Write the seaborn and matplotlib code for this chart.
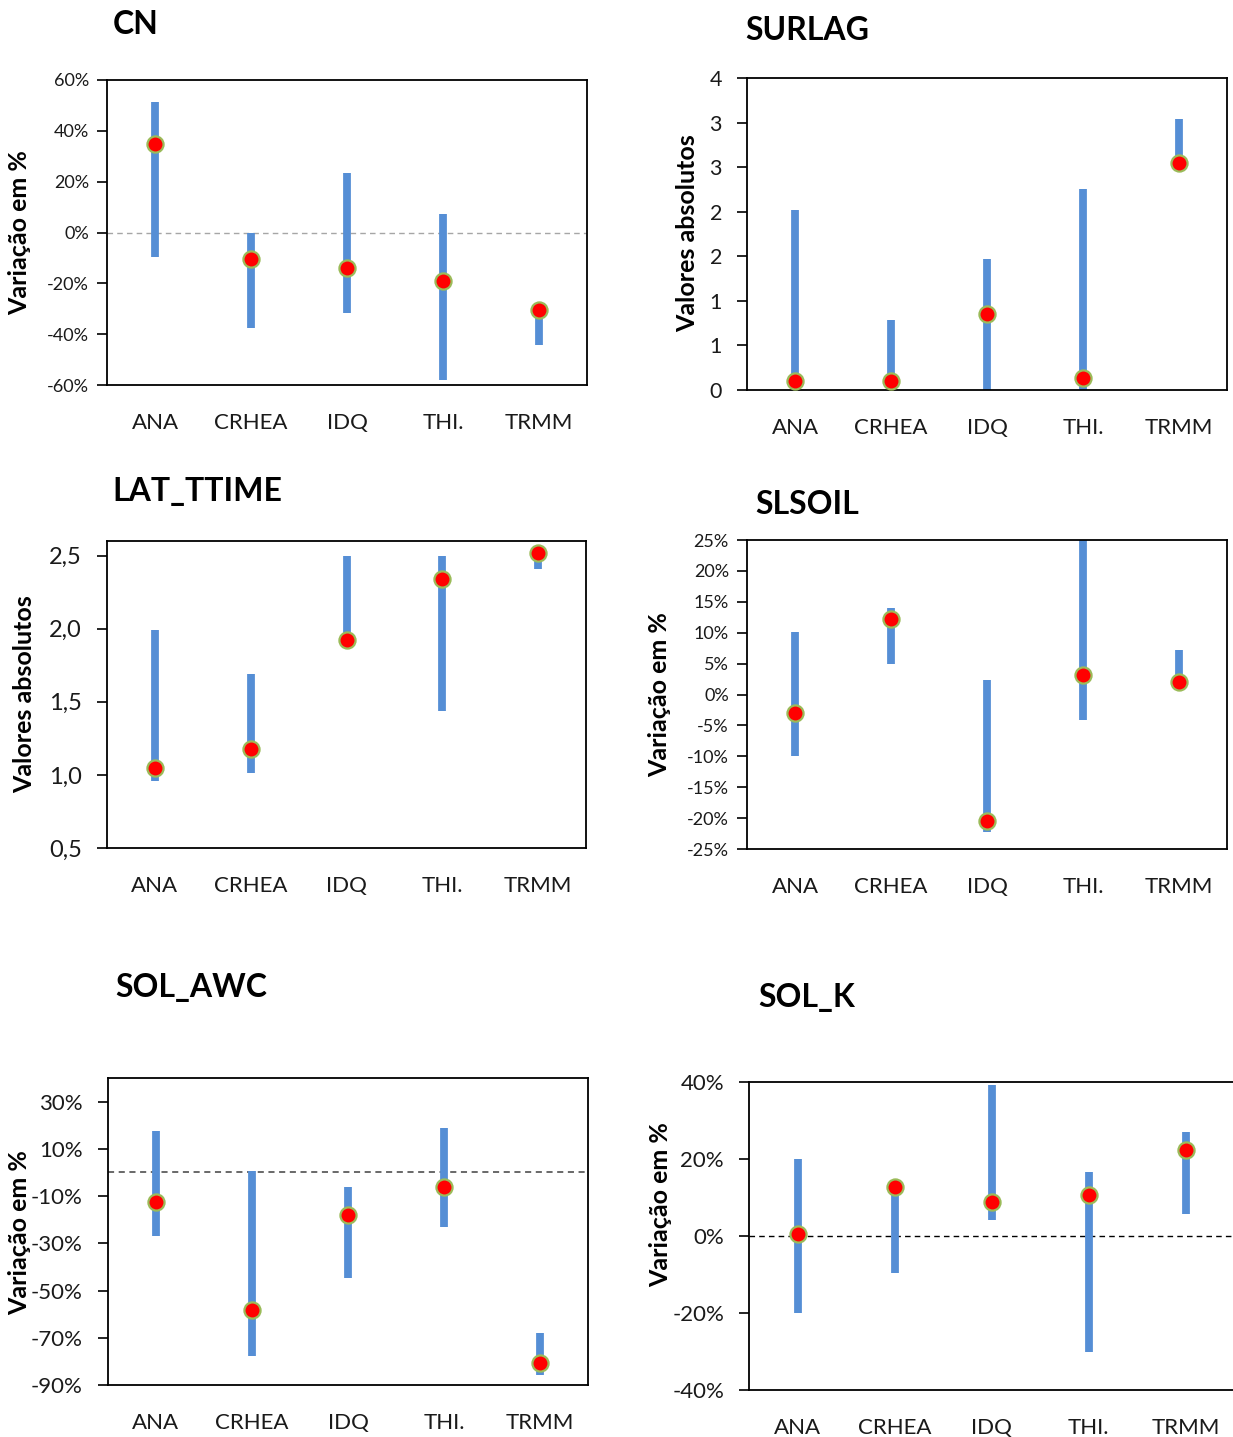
import numpy as np
import pandas as pd
import matplotlib
matplotlib.use("Agg")
import matplotlib.pyplot as plt
from matplotlib.ticker import FixedLocator, FuncFormatter
import seaborn as sns

# ---------------- data ----------------
categories = ["ANA", "CRHEA", "IDQ", "THI.", "TRMM"]

cn_low = [-9.7, -37.6, -31.7, -58.0, -44.3]
cn_high = [51.3, 0.0, 23.4, 7.2, -30.6]
cn_val = [34.8, -10.5, -14.0, -19.0, -30.6]

surlag_low = [0.0, 0.0, 0.0, 0.0, 2.55]
surlag_high = [2.02, 0.79, 1.47, 2.26, 3.04]
surlag_val = [0.10, 0.10, 0.85, 0.14, 2.55]
surlag_ticklabels = ["0", "1", "1", "2", "2", "3", "3", "4"]

lat_low = [0.96, 1.015, 1.92, 1.44, 2.41]
lat_high = [1.99, 1.69, 2.50, 2.50, 2.52]
lat_val = [1.05, 1.18, 1.92, 2.34, 2.52]

slsoil_low = [-10.0, 4.9, -22.2, -4.1, 2.0]
slsoil_high = [10.1, 14.0, 2.3, 25.0, 7.2]
slsoil_val = [-3.0, 12.2, -20.4, 3.1, 2.0]

awc_low = [-26.8, -77.6, -44.8, -22.9, -85.6]
awc_high = [17.7, 0.5, -6.1, 19.0, -67.9]
awc_val = [-12.5, -58.3, -18.2, -6.0, -80.5]

solk_low = [-20.0, -9.7, 4.1, -30.2, 5.8]
solk_high = [20.0, 12.8, 39.2, 16.5, 26.9]
solk_val = [0.6, 12.8, 8.9, 10.7, 22.4]

titles = ["CN", "SURLAG", "LAT_TTIME", "SLSOIL", "SOL_AWC", "SOL_K"]
ylabels = ["Variação em %", "Valores absolutos", "Valores absolutos",
           "Variação em %", "Variação em %", "Variação em %"]

# ---------------- style ----------------
sns.set_theme(style="white")
plt.rcParams["font.family"] = ["Lato", "DejaVu Sans"]

W, H = 1233, 1437
DPI = 100
fig = plt.figure(figsize=(W / DPI, H / DPI), dpi=DPI)

BAR = "#558ED5"
DOT = "#FF0000"
EDGE = "#9BBB59"


def add_ax(l, r, t, b):
    return fig.add_axes([l / W, 1 - b / H, (r - l) / W, (b - t) / H])


def panel(ax, low, high, val, ylim, ticks, fmt, tick_fs, tick_pad, zero_line=None):
    pos = np.arange(len(categories))
    df = pd.DataFrame({"pos": pos, "low": low, "high": high, "val": val,
                       "cat": categories})
    lc = ax.vlines(df["pos"], df["low"], df["high"], colors=BAR, linewidth=5.6,
                   zorder=2)
    lc.set_capstyle("butt")
    if zero_line is not None:
        ax.axhline(0, color=zero_line[0], linestyle=(0, (4, 3)),
                   linewidth=zero_line[1], zorder=1)
    sns.scatterplot(data=df, x="pos", y="val", ax=ax, s=135, color=DOT,
                    edgecolor=EDGE, linewidth=1.6, zorder=3, legend=False,
                    clip_on=False)
    ax.set_xlim(-0.5, len(categories) - 0.5)
    ax.set_ylim(*ylim)
    ax.yaxis.set_major_locator(FixedLocator(ticks))
    ax.yaxis.set_major_formatter(fmt)
    ax.set_xticks(pos)
    ax.set_xticklabels(categories)
    ax.set_xlabel("")
    ax.set_ylabel("")
    ax.tick_params(axis="x", length=0, pad=20, labelsize=16, labelcolor="#1a1a1a")
    ax.tick_params(axis="y", left=True, length=7, width=1.2, direction="out",
                   pad=tick_pad, labelsize=tick_fs, labelcolor="#1a1a1a",
                   color="black")
    for sp in ax.spines.values():
        sp.set_color("black")
        sp.set_linewidth(1.3)
        sp.set_visible(True)
    ax.set_facecolor("white")


pct = FuncFormatter(lambda v, p: f"{v:.0f}%")
comma = FuncFormatter(lambda v, p: f"{v:.1f}".replace(".", ","))
surlag_fmt = FuncFormatter(
    lambda v, p: surlag_ticklabels[int(round(v / 0.5))]
    if 0 <= round(v / 0.5) < len(surlag_ticklabels) else "")

# Panel 1: CN
ax1 = add_ax(107, 587, 80, 385)
panel(ax1, cn_low, cn_high, cn_val, (-60, 60), np.arange(-60, 61, 20), pct, 13, 6,
      zero_line=("#A6A6A6", 1.0))

# Panel 2: SURLAG
ax2 = add_ax(747, 1227, 78, 390)
panel(ax2, surlag_low, surlag_high, surlag_val, (0, 3.5), np.arange(0, 3.51, 0.5),
      surlag_fmt, 15.5, 11)

# Panel 3: LAT_TTIME
ax3 = add_ax(107, 586, 541, 848)
panel(ax3, lat_low, lat_high, lat_val, (0.5, 2.6), np.arange(0.5, 2.51, 0.5),
      comma, 17, 11)

# Panel 4: SLSOIL
ax4 = add_ax(747, 1227, 540, 849)
panel(ax4, slsoil_low, slsoil_high, slsoil_val, (-25, 25), np.arange(-25, 26, 5),
      pct, 13, 6)

# Panel 5: SOL_AWC
ax5 = add_ax(108, 588, 1078, 1385)
panel(ax5, awc_low, awc_high, awc_val, (-90, 40), np.arange(-90, 31, 20), pct, 16, 11,
      zero_line=("#404040", 1.1))

# Panel 6: SOL_K
ax6 = add_ax(749, 1234, 1082, 1390)
panel(ax6, solk_low, solk_high, solk_val, (-40, 40), np.arange(-40, 41, 20), pct, 16, 11,
      zero_line=("#000000", 1.0))

# titles
title_pos = [(113, 24), (745, 30), (112, 491), (755, 505), (115, 987), (758, 998)]
for t, (x, y) in zip(titles, title_pos):
    fig.text(x / W, 1 - y / H, t, fontsize=23, fontweight="bold", ha="left",
             va="center", color="black")

# y labels
ylabel_pos = [(20, 233), (688, 233), (25, 694), (660, 695), (20, 1233), (661, 1205)]
for t, (x, y) in zip(ylabels, ylabel_pos):
    fig.text(x / W, 1 - y / H, t, fontsize=18, fontweight="bold", rotation=90,
             ha="center", va="center", color="black")

fig.savefig("out.png", dpi=DPI, facecolor="white")
